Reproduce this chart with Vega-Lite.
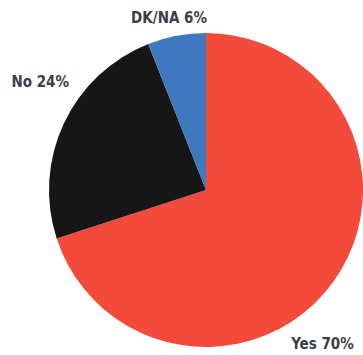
{
  "$schema": "https://vega.github.io/schema/vega-lite/v6.json",
  "width": 314,
  "height": 314,
  "autosize": {"type": "none"},
  "padding": {"left": 49, "top": 33, "right": 0, "bottom": 8},
  "background": "white",
  "data": {
    "values": [
      {"answer": "Yes", "pct": 70, "order": 1},
      {"answer": "No", "pct": 24, "order": 2},
      {"answer": "DK/NA", "pct": 6, "order": 3}
    ]
  },
  "transform": [
    {"calculate": "datum.answer + ' ' + datum.pct + '%'", "as": "label"}
  ],
  "encoding": {
    "theta": {"field": "pct", "type": "quantitative", "stack": true},
    "order": {"field": "order", "type": "quantitative"},
    "detail": {"field": "answer", "type": "nominal"}
  },
  "layer": [
    {
      "mark": {"type": "arc"},
      "encoding": {
        "color": {
          "field": "answer",
          "type": "nominal",
          "scale": {"domain": ["Yes", "No", "DK/NA"], "range": ["#f44a3b", "#161616", "#4078c0"]},
          "legend": null
        }
      }
    },
    {
      "mark": {"type": "text", "radius": 160, "dx": -13, "dy": 60, "font": "DejaVu Sans Condensed", "fontWeight": "bold", "fontSize": 15, "color": "#3b3d48"},
      "encoding": {
        "text": {"condition": {"test": "datum.answer === 'Yes'", "field": "label"}, "value": ""}
      }
    },
    {
      "mark": {"type": "text", "radius": 160, "dx": -21, "dy": -40, "font": "DejaVu Sans Condensed", "fontWeight": "bold", "fontSize": 15, "color": "#3b3d48"},
      "encoding": {
        "text": {"condition": {"test": "datum.answer === 'No'", "field": "label"}, "value": ""}
      }
    },
    {
      "mark": {"type": "text", "radius": 160, "dx": -7, "dy": -15, "font": "DejaVu Sans Condensed", "fontWeight": "bold", "fontSize": 15, "color": "#3b3d48"},
      "encoding": {
        "text": {"condition": {"test": "datum.answer === 'DK/NA'", "field": "label"}, "value": ""}
      }
    }
  ],
  "config": {"view": {"stroke": null}}
}
